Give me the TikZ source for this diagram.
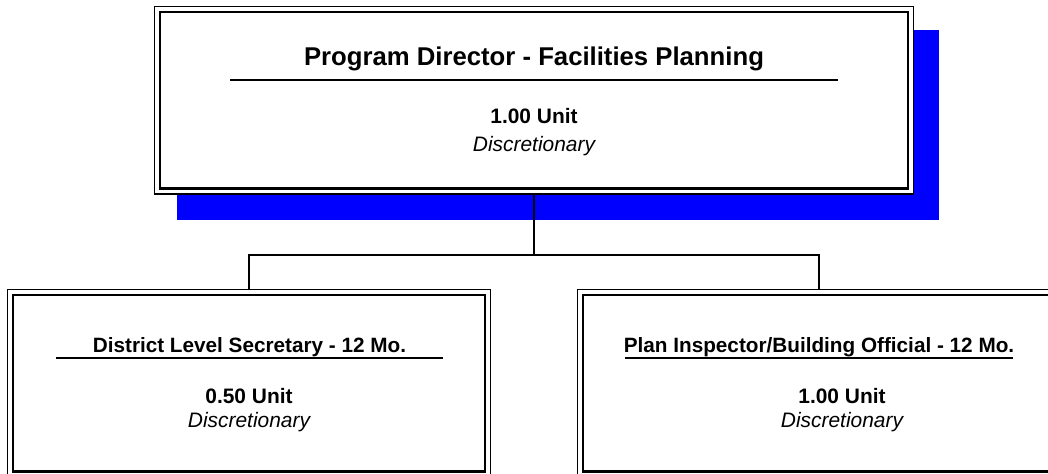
\documentclass[tikz,border=0pt]{standalone}
\usepackage{fontspec}
\setmainfont{Liberation Sans}
\definecolor{shadowblue}{RGB}{0,0,255}
\begin{document}
\begin{tikzpicture}[x=1bp,y=-1bp,
  outerbox/.style={draw=black, line width=1.5bp, fill=white, rectangle, inner sep=0pt, outer sep=0pt},
  innerline/.style={draw=black, line width=2.1bp},
  conn/.style={draw=black, line width=1.5bp},
  uline/.style={draw=black, line width=1.6bp},
  bigtitle/.style={anchor=base, inner sep=0pt, font=\fontsize{25.8}{30}\selectfont\bfseries},
  smalltitle/.style={anchor=base, inner sep=0pt, font=\fontsize{20.8}{25}\selectfont\bfseries},
  unittext/.style={anchor=base, inner sep=0pt, font=\fontsize{21}{25}\selectfont\bfseries},
  disctext/.style={anchor=base, inner sep=0pt, font=\fontsize{21}{25}\selectfont\itshape}
]
\path[use as bounding box] (0,0) rectangle (1048,474);
\clip (0,0) rectangle (1048,474);

% shadow
\fill[shadowblue] (177,30) rectangle (939,220);

% top box
\node[outerbox, minimum width=759bp, minimum height=187.5bp] (top) at (534,100.25) {};
\draw[innerline] ([shift={(5.5,5.5)}]top.north west) rectangle ([shift={(-5.5,-5.5)}]top.south east);
\node[bigtitle] (toptitle) at (534,66) {Program Director - Facilities Planning};
\draw[uline] (230,80) -- (838,80);
\node[unittext] (topunit) at (534,124) {1.00 Unit};
\node[disctext] (topdisc) at (534,152) {Discretionary};

% child boxes
\node[outerbox, minimum width=483bp, minimum height=187.5bp] (left) at (249,383.25) {};
\node[outerbox, minimum width=483bp, minimum height=187.5bp] (right) at (819,383.25) {};

% connectors
\coordinate (j) at (534,255);
\draw[conn] (top.south) -- (j);
\draw[conn] (j) -| (left.north);
\draw[conn] (j) -| (right.north);

\draw[innerline] ([shift={(5.5,5.5)}]left.north west) rectangle ([shift={(-5.5,-5.5)}]left.south east);
\draw[innerline] ([shift={(5.5,5.5)}]right.north west) rectangle ([shift={(-5.5,-5.5)}]right.south east);

% left child text
\node[smalltitle] (lefttitle) at (249.5,353) {District Level Secretary - 12 Mo.};
\draw[uline] (56,358.3) -- (443,358.3);
\node[unittext] (leftunit) at (249,404) {0.50 Unit};
\node[disctext] (leftdisc) at (249,427) {Discretionary};

% right child text
\node[smalltitle] (righttitle) at (819,353) {Plan Inspector/Building Official - 12 Mo.};
\draw[uline] (625,358.3) -- (1013,358.3);
\node[unittext] (rightunit) at (842,404) {1.00 Unit};
\node[disctext] (rightdisc) at (842,427) {Discretionary};
\end{tikzpicture}
\end{document}
